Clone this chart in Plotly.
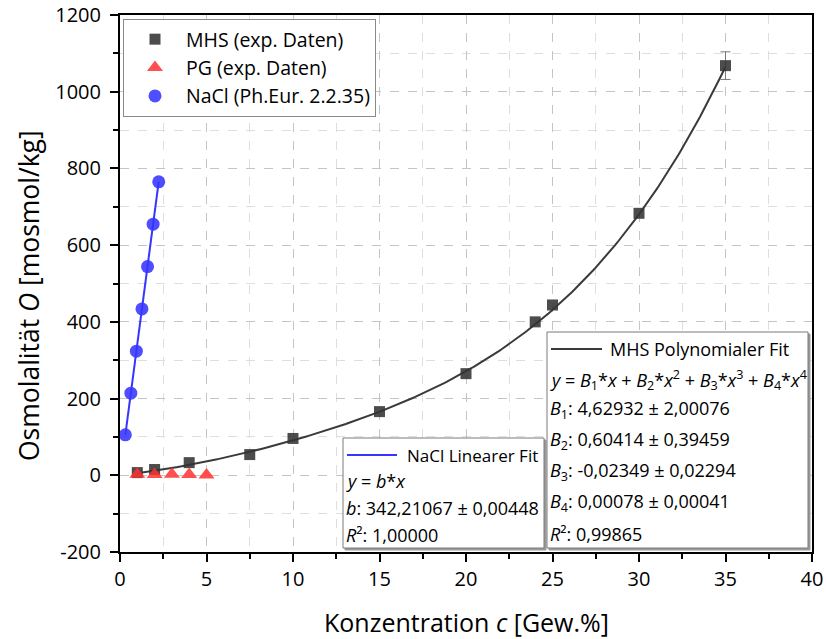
import numpy as np
import plotly.graph_objects as go

# ---------------- data ----------------
mhs_x = [1, 2, 4, 7.5, 10, 15, 20, 24, 25, 30, 35]
mhs_y = [7, 15, 33, 54, 96, 166, 265, 400, 444, 683, 1068]
mhs_err_x = [35]
mhs_err_y = [1068]
mhs_err = [36]

pg_x = [1, 2, 3, 4, 5]
pg_y = [3, 2, 3, 2, 1]

nacl_x = [0.3087, 0.6260, 0.9463, 1.2684, 1.5916, 1.9147, 2.2380]
nacl_y = [105.6, 214.1, 323.6, 433.7, 544.2, 654.7, 765.2]

# fit parameters shown in the chart
nacl_b = 342.21067
nacl_b_err = 0.00448
nacl_r2 = 1.00000
mhs_B = [4.62932, 0.60414, -0.02349, 0.00078]
mhs_B_err = [2.00076, 0.39459, 0.02294, 0.00041]
mhs_r2 = 0.99865
mhs_fit_range = [1, 35]

x_ticks = [0, 5, 10, 15, 20, 25, 30, 35, 40]
y_ticks = [-200, 0, 200, 400, 600, 800, 1000, 1200]
y_ticklabels = ["-200", "0", "200", "400", "600", "800", "1000", "1200"]

# ---------------- layout helpers ----------------
W, H = 826, 639
L, T, R, B = 120, 15, 14, 87
PW, PH = W - L - R, H - T - B


def px(xp):
    return (xp - L) / PW


def py(yp):
    return (T + PH - yp) / PH


def de(v, nd=5):
    return f"{v:.{nd}f}".replace(".", ",")


FONT = "Open Sans"

fig = go.Figure()

# fit lines
fx = np.linspace(mhs_fit_range[0], mhs_fit_range[1], 300)
fy = sum(b * fx ** (i + 1) for i, b in enumerate(mhs_B))
fig.add_trace(go.Scatter(x=fx, y=fy, mode="lines", line=dict(color="#3a3a3a", width=2),
                         showlegend=False, hoverinfo="skip"))
nx = np.array([nacl_x[0], nacl_x[-1]])
fig.add_trace(go.Scatter(x=nx, y=nacl_b * nx, mode="lines", line=dict(color="#3535ff", width=2),
                         showlegend=False, hoverinfo="skip"))

# error bar on last MHS point
fig.add_trace(go.Scatter(x=mhs_err_x, y=mhs_err_y, mode="markers", marker=dict(opacity=0, size=1),
                         error_y=dict(type="data", array=mhs_err, color="#7a7a7a", thickness=1, width=5),
                         showlegend=False, hoverinfo="skip"))

fig.add_trace(go.Scatter(x=mhs_x, y=mhs_y, mode="markers", name="MHS (exp. Daten)",
                         marker=dict(symbol="square", size=11, color="#333333", opacity=0.88)))
fig.add_trace(go.Scatter(x=pg_x, y=pg_y, mode="markers", name="PG (exp. Daten)",
                         marker=dict(symbol="triangle-up", size=14, color="#ff3030", opacity=0.85)))
fig.add_trace(go.Scatter(x=nacl_x, y=nacl_y, mode="markers", name="NaCl (Ph.Eur. 2.2.35)",
                         marker=dict(symbol="circle", size=13, color="#3535ff", opacity=0.88)))

axis_common = dict(
    showline=True, linecolor="black", linewidth=2, mirror=True,
    ticks="outside", ticklen=8, tickwidth=2, tickcolor="black",
    tickfont=dict(family=FONT, size=20, color="black"),
    showgrid=True, gridcolor="#c4c4c4", griddash="dash", gridwidth=1,
    zeroline=False,
)

fig.update_xaxes(range=[0, 40], tickvals=x_ticks,
                 minor=dict(dtick=2.5, ticks="outside", ticklen=5, tickwidth=2, tickcolor="black",
                            showgrid=True, gridcolor="#dedede", griddash="dash"),
                 **axis_common)
fig.update_yaxes(range=[-200, 1200], tickvals=y_ticks, ticktext=y_ticklabels, ticklabelstandoff=5,
                 minor=dict(dtick=100, ticks="outside", ticklen=5, tickwidth=2, tickcolor="black",
                            showgrid=True, gridcolor="#dedede", griddash="dash"),
                 **axis_common)

shapes = []
annotations = []


def box(x0, y0, x1, y1):
    shapes.append(dict(type="rect", xref="paper", yref="paper",
                       x0=px(x0 + 2), x1=px(x1 + 2), y0=py(y0 + 2), y1=py(y1 + 2),
                       line=dict(color="#9a9a9a", width=1), fillcolor="#9a9a9a", layer="above"))
    shapes.append(dict(type="rect", xref="paper", yref="paper",
                       x0=px(x0), x1=px(x1), y0=py(y0), y1=py(y1),
                       line=dict(color="#7a7a7a", width=1), fillcolor="white", layer="above"))


def text(x, y, s, size=18):
    annotations.append(dict(xref="paper", yref="paper", x=px(x), y=py(y), text=s, showarrow=False,
                            xanchor="left", yanchor="middle", align="left",
                            font=dict(family=FONT, size=size, color="black")))


# NaCl fit box
box(343, 438, 544, 548)
shapes.append(dict(type="line", xref="paper", yref="paper", x0=px(347), x1=px(397), y0=py(455), y1=py(455),
                   line=dict(color="#3535ff", width=2), layer="above"))
text(405, 455, "NaCl Linearer Fit", size=17)
text(344, 481, "<i>y</i> = <i>b</i>*<i>x</i>")
text(344, 508, f"<i>b</i>: {de(nacl_b)} ± {de(nacl_b_err)}")
text(344, 535, f"<i>R</i>²: {de(nacl_r2)}")

# MHS fit box
box(547, 332, 808, 548)
shapes.append(dict(type="line", xref="paper", yref="paper", x0=px(551), x1=px(602), y0=py(349), y1=py(349),
                   line=dict(color="#3a3a3a", width=2), layer="above"))
text(608, 349, "MHS Polynomialer Fit")
eq = "<i>y</i> = " + " + ".join(
    f"<i>B</i><sub>{i+1}</sub>*<i>x</i>" + (f"<sup>{i+1}</sup>" if i > 0 else "") for i in range(4))
text(548, 380, eq)
for i, (b, e) in enumerate(zip(mhs_B, mhs_B_err)):
    text(548, 410 + i * 30.7, f"<i>B</i><sub>{i+1}</sub>: {de(b)} ± {de(e)}")
text(548, 534, f"<i>R</i>²: {de(mhs_r2)}")

# axis titles
annotations.append(dict(xref="paper", yref="paper", x=px(467), y=py(622),
                        text="Konzentration <i>c</i> [Gew.%]", showarrow=False,
                        xanchor="center", yanchor="middle",
                        font=dict(family=FONT, size=25, color="black")))
annotations.append(dict(xref="paper", yref="paper", x=px(29), y=py(296),
                        text="Osmolalität <i>O</i> [mosmol/kg]", showarrow=False, textangle=-90,
                        xanchor="center", yanchor="middle",
                        font=dict(family=FONT, size=26.5, color="black")))

fig.update_layout(
    width=W, height=H,
    margin=dict(l=L, r=R, t=T, b=B, autoexpand=False),
    paper_bgcolor="white", plot_bgcolor="white",
    shapes=shapes, annotations=annotations,
    legend=dict(x=px(123), y=py(19), xanchor="left", yanchor="top",
                bordercolor="#8a8a8a", borderwidth=1, bgcolor="white",
                font=dict(family=FONT, size=19.5, color="black"),
                itemwidth=52, tracegroupgap=0),
    showlegend=True,
)

fig.write_html("out.html")
